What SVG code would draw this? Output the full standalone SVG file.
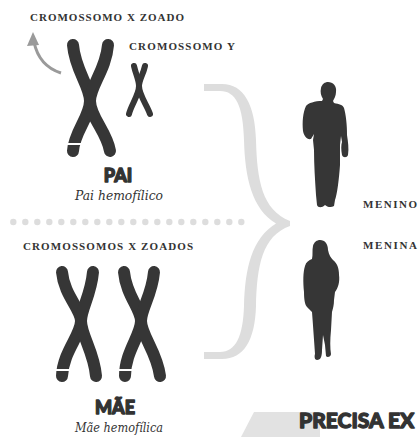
<svg xmlns="http://www.w3.org/2000/svg" width="418" height="437" viewBox="0 0 418 437">
  <style>
    .chromo { fill: none; stroke: #363636; stroke-width: 12; stroke-linecap: round; }
    .chromo-y { fill: none; stroke: #363636; stroke-width: 6; stroke-linecap: round; }
    .band { stroke: #ffffff; stroke-width: 2; }
    .caps { font-family: "Liberation Serif", "DejaVu Serif", serif; font-size: 11px; font-weight: bold; fill: #333333; }
    .heavy { font-family: Lato, Roboto, "DejaVu Sans", sans-serif; font-weight: 900; fill: #333333; stroke: #333333; stroke-width: 1.3; stroke-linejoin: round; }
    .ital { font-family: "DejaVu Serif", "Liberation Serif", serif; font-style: italic; font-size: 13.5px; fill: #333333; }
    .silhouette { fill: #363636; }
    .dot { fill: #dddddd; }
  </style>

  <rect width="418" height="437" fill="#ffffff"/>

  <!-- father: X + Y chromosomes -->
  <g id="father">
    <text class="caps" x="30" y="21" textLength="154" lengthAdjust="spacing">CROMOSSOMO X ZOADO</text>
    <path d="M61,73 Q39,66 34,42" fill="none" stroke="#9a9a9a" stroke-width="3"/>
    <path d="M33,32 L27,46 L39,45 Z" fill="#9a9a9a"/>
    <path class="chromo" d="M73,45 C75,70 90,86 90,101 C90,117 74,132 73,151"/>
    <path class="chromo" d="M108,45 C106,70 90,86 90,101 C90,117 107,132 110,151"/>
    <line class="band" x1="64" y1="144" x2="84" y2="144"/>
    <text class="caps" x="129" y="50" textLength="106" lengthAdjust="spacing">CROMOSSOMO Y</text>
    <path class="chromo-y" d="M134,66 C136,75 139,80 139,86 C139,95 131,105 129,114"/>
    <path class="chromo-y" d="M145,66 C143,75 139,80 139,86 C139,95 147,105 150,114"/>
    <text class="heavy" x="118" y="182" font-size="18" text-anchor="middle">PAI</text>
    <text class="ital" x="119" y="200" text-anchor="middle" textLength="88" lengthAdjust="spacingAndGlyphs">Pai hemofílico</text>
  </g>

  <!-- dotted divider -->
  <g id="divider">
    <circle class="dot" cx="13.3" cy="222" r="3.2"/>
    <circle class="dot" cx="25.3" cy="222" r="3.2"/>
    <circle class="dot" cx="37.3" cy="222" r="3.2"/>
    <circle class="dot" cx="49.3" cy="222" r="3.2"/>
    <circle class="dot" cx="61.3" cy="222" r="3.2"/>
    <circle class="dot" cx="73.3" cy="222" r="3.2"/>
    <circle class="dot" cx="85.3" cy="222" r="3.2"/>
    <circle class="dot" cx="97.3" cy="222" r="3.2"/>
    <circle class="dot" cx="109.3" cy="222" r="3.2"/>
    <circle class="dot" cx="121.3" cy="222" r="3.2"/>
    <circle class="dot" cx="133.3" cy="222" r="3.2"/>
    <circle class="dot" cx="145.3" cy="222" r="3.2"/>
    <circle class="dot" cx="157.3" cy="222" r="3.2"/>
    <circle class="dot" cx="169.3" cy="222" r="3.2"/>
    <circle class="dot" cx="181.3" cy="222" r="3.2"/>
    <circle class="dot" cx="193.3" cy="222" r="3.2"/>
    <circle class="dot" cx="205.3" cy="222" r="3.2"/>
    <circle class="dot" cx="217.3" cy="222" r="3.2"/>
    <circle class="dot" cx="229.3" cy="222" r="3.2"/>
    <circle class="dot" cx="241.3" cy="222" r="3.2"/>
  </g>

  <!-- mother: two X chromosomes -->
  <g id="mother">
    <text class="caps" x="23" y="250" textLength="170" lengthAdjust="spacing">CROMOSSOMOS X ZOADOS</text>
    <path class="chromo" d="M62,272 C64,295 81,309 81,321 C81,335 63,352 62,376"/>
    <path class="chromo" d="M93,272 C91,295 81,309 81,321 C81,335 94,352 96,376"/>
    <line class="band" x1="53" y1="370" x2="73" y2="370"/>
    <path class="chromo" d="M124,272 C126,295 141,309 141,321 C141,335 125,352 125,376"/>
    <path class="chromo" d="M154,272 C152,295 141,309 141,321 C141,335 157,352 160,376"/>
    <line class="band" x1="115" y1="370" x2="135" y2="370"/>
    <text class="heavy" x="115" y="414" font-size="18" text-anchor="middle">MÃE</text>
    <text class="ital" x="119" y="432" text-anchor="middle" textLength="88" lengthAdjust="spacingAndGlyphs">Mãe hemofílica</text>
  </g>

  <!-- brace joining both parents -->
  <g id="connectors">
    <path d="M204,84 L222,84 C244,84 255,105 256,140 C257,180 262,210 290,221 L290,226 C262,236 257,266 256,306 C255,340 244,359 222,359 L204,359 L204,352 L220,352 C236,352 243,336 244,306 C245,268 252,238 276,223.5 C252,209 245,178 244,140 C243,106 236,91 220,91 L204,91 Z" fill="#dddddd"/>
  </g>

  <!-- boy -->
  <g id="boy">
    <path class="silhouette" d="M328,82 C333,82 337,86 336,92 C336,96 334,99 333,101 L334,103 C339,104 343,105 344,108 C346,115 347,125 347,135 C348,142 349,148 348,155 C347,158 343,158 342,155 C341,150 341,145 342,142 L341,136 L340,145 L340,165 C339,180 337,195 335,200 L334,206 C331,208 327,207 325,205 C322,208 318,208 317,205 L316,195 C315,180 314,165 314,150 L313,140 L314,134 L311,139 C307,140 304,136 303,131 C302,122 303,112 306,106 C308,103 315,101 322,101 L323,99 C321,96 320,92 321,88 C322,84 325,82 328,82 Z"/>
    <text class="caps" x="363" y="208" textLength="54" lengthAdjust="spacing">MENINO</text>
  </g>

  <!-- girl -->
  <g id="girl">
    <path class="silhouette" d="M320,240 C325,240 328,244 328,250 C329,255 331,258 333,260 C337,263 339,268 339,275 C340,282 338,288 335,292 L334,300 C334,305 333,308 332,312 L331,330 C330,340 330,348 331,354 C331,357 327,358 326,356 L325,345 L323,335 L322,350 C322,356 321,360 317,360 C315,360 314,357 315,354 C314,340 313,325 312,312 L307,307 C305,305 304,300 304,292 C303,282 303,272 305,266 C306,262 309,260 312,259 C313,255 312,250 313,246 C314,242 317,240 320,240 Z"/>
    <text class="caps" x="363" y="249" textLength="54" lengthAdjust="spacing">MENINA</text>
  </g>

  <!-- footer heading -->
  <g id="footer">
    <path d="M254,412 L320,412 L320,437 L241,437 Z" fill="#e2e2e2"/>
    <text class="heavy" x="299" y="428" font-size="21">PRECISA EX</text>
  </g>
</svg>
